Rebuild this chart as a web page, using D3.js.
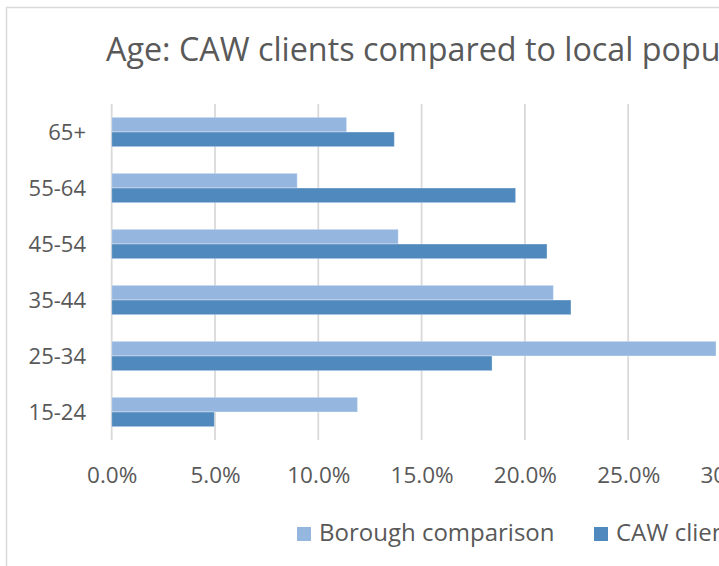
<!DOCTYPE html>
<html>
<head>
<meta charset="utf-8">
<script src="https://cdn.jsdelivr.net/npm/d3@7"></script>
<style>
  html, body { margin: 0; padding: 0; background: #fff; overflow: hidden; }
  svg { display: block; font-family: "Open Sans", sans-serif; }
</style>
</head>
<body>
<svg id="chart" width="719" height="566"></svg>
<script>
const title = "Age: CAW clients compared to local population";
const categories = ["15-24", "25-34", "35-44", "45-54", "55-64", "65+"];
const seriesNames = ["Borough comparison", "CAW clients"];
const borough = [0.119, 0.2925, 0.2138, 0.1387, 0.0898, 0.1137];
const caw = [0.0497, 0.1841, 0.2223, 0.2107, 0.1955, 0.1368];
const tickValues = [0, 0.05, 0.10, 0.15, 0.20, 0.25, 0.30, 0.35];
const colors = ["#95B7DF", "#4F89BD"];

const svg = d3.select("#chart");
const textColor = "#595959";

// chart area frame (extends beyond the visible window)
svg.append("rect")
  .attr("x", 6.5).attr("y", 7.5)
  .attr("width", 1200).attr("height", 1200)
  .attr("fill", "#fff").attr("stroke", "#D9D9D9").attr("stroke-width", 1.5);

svg.append("text")
  .attr("x", 106).attr("y", 61)
  .attr("font-size", 32.3).attr("fill", textColor)
  .text(title);

const x = d3.scaleLinear().domain([0, 0.35]).range([111.7, 111.7 + 7 * 103.3]);
const y0 = d3.scaleBand().domain(categories.slice().reverse()).range([104, 440]).padding(0);
const y1 = d3.scaleBand().domain(seriesNames).range([0, y0.bandwidth()]).paddingInner(0).paddingOuter(0.905);

// gridlines
svg.append("g").selectAll("line").data(tickValues).join("line")
  .attr("x1", d => x(d)).attr("x2", d => x(d))
  .attr("y1", 104).attr("y2", 440)
  .attr("stroke", "#D9D9D9").attr("stroke-width", 1.8);

// bars
const rows = categories.map((c, i) => ({ cat: c, vals: [borough[i], caw[i]] }));
const groups = svg.append("g").selectAll("g").data(rows).join("g")
  .attr("transform", d => `translate(0,${y0(d.cat)})`);
groups.selectAll("rect").data(d => d.vals.map((v, j) => ({ v, s: seriesNames[j], j })))
  .join("rect")
  .attr("x", x(0))
  .attr("y", d => y1(d.s))
  .attr("width", d => x(d.v) - x(0))
  .attr("height", y1.bandwidth())
  .attr("fill", d => colors[d.j])
  .attr("stroke", "#ffffff").attr("stroke-opacity", 0.35).attr("stroke-width", 1);

// x axis labels
const xAxis = d3.axisBottom(x).tickValues(tickValues).tickSize(0).tickFormat(d3.format(".1%"));
const gx = svg.append("g").attr("transform", "translate(0,440)").call(xAxis);
gx.select(".domain").remove();
gx.selectAll("text")
  .attr("y", 43).attr("dy", 0)
  .attr("font-size", 22.5).attr("fill", textColor)
  .attr("font-family", "Open Sans, sans-serif");

// y axis labels
const yAxis = d3.axisLeft(y0).tickSize(0).tickPadding(0);
const gy = svg.append("g").attr("transform", "translate(86,0)").call(yAxis);
gy.select(".domain").remove();
gy.selectAll("text")
  .attr("x", 0).attr("dy", "0.36em")
  .attr("font-size", 22).attr("fill", textColor)
  .attr("font-family", "Open Sans, sans-serif");

// legend
const legendX = [297, 594];
const leg = svg.append("g").selectAll("g").data(seriesNames).join("g")
  .attr("transform", (d, i) => `translate(${legendX[i]},527)`);
leg.append("rect").attr("width", 14).attr("height", 14).attr("fill", (d, i) => colors[i]);
leg.append("text").attr("x", 22).attr("y", 14)
  .attr("font-size", 24).attr("fill", textColor).text(d => d);
</script>
</body>
</html>
